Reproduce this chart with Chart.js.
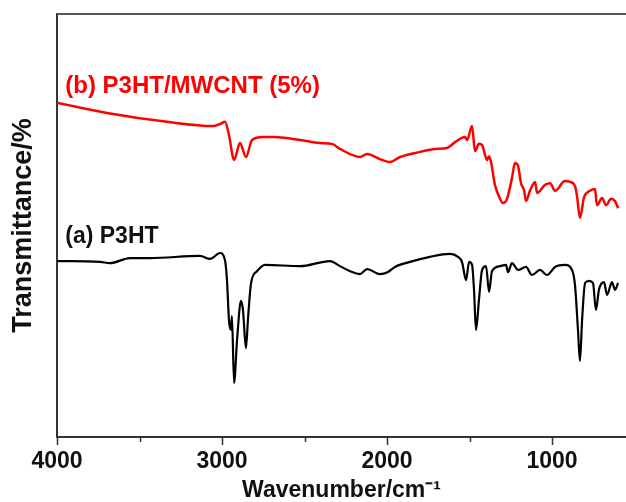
<!DOCTYPE html>
<html>
<head>
<meta charset="utf-8">
<style>
  html, body { margin: 0; padding: 0; background: #fff; }
  #box { width: 626px; height: 502px; }
</style>
<script src="https://cdn.jsdelivr.net/npm/chart.js"></script>
</head>
<body>
<div id="box"><canvas id="grafico"></canvas></div>
<script>
// spettro (b) P3HT/MWCNT: numero d'onda (cm-1) e trasmittanza
var numeri_onda_b = [4000, 3697, 3333, 3055, 3012, 2982, 2958, 2927, 2891, 2855, 2818, 2752, 2691, 2527, 2406, 2333, 2285, 2164, 2121, 2043, 1982, 1921, 1800, 1709, 1637, 1588, 1528, 1515, 1485, 1467, 1443, 1424, 1394, 1382, 1370, 1346, 1315, 1297, 1273, 1243, 1225, 1206, 1188, 1170, 1158, 1134, 1103, 1091, 1043, 1012, 982, 922, 891, 861, 849, 831, 806, 770, 740, 728, 697, 673, 643, 619, 600];
var trasmittanza_b = [79.0, 76.6, 74.5, 73.5, 74.0, 74.5, 71.4, 65.5, 69.5, 66.2, 70.2, 70.9, 70.9, 70.2, 69.5, 69.3, 68.1, 66.2, 66.9, 65.7, 65.0, 66.2, 67.4, 68.1, 68.3, 69.7, 70.9, 70.2, 73.5, 67.6, 69.3, 69.0, 65.5, 66.4, 65.0, 59.6, 56.3, 55.3, 56.3, 61.2, 64.8, 64.1, 60.0, 58.4, 55.8, 58.2, 60.3, 57.7, 59.6, 60.0, 58.2, 60.5, 60.3, 59.3, 57.0, 51.8, 56.7, 58.2, 58.6, 54.8, 56.5, 54.8, 56.3, 55.8, 54.1];

// spettro (a) P3HT
var numeri_onda_a = [4000, 3739, 3679, 3558, 3436, 3133, 3073, 3012, 2982, 2970, 2958, 2946, 2940, 2927, 2909, 2885, 2873, 2855, 2843, 2824, 2788, 2740, 2527, 2346, 2285, 2224, 2164, 2121, 2043, 1994, 1952, 1861, 1740, 1618, 1570, 1546, 1521, 1503, 1485, 1473, 1461, 1443, 1424, 1400, 1382, 1364, 1315, 1279, 1267, 1243, 1206, 1158, 1122, 1073, 1031, 982, 922, 879, 861, 843, 831, 818, 800, 776, 752, 734, 716, 685, 667, 637, 619, 600];
var trasmittanza_a = [41.6, 41.4, 41.1, 42.3, 42.3, 42.8, 42.1, 43.5, 41.8, 37.1, 27.7, 25.3, 28.6, 12.8, 22.9, 32.2, 30.0, 21.0, 27.7, 36.4, 39.2, 40.7, 40.4, 41.6, 40.4, 39.2, 38.5, 39.7, 38.5, 39.0, 40.2, 41.4, 42.6, 43.3, 42.6, 41.4, 37.1, 41.4, 40.7, 34.8, 25.3, 32.4, 39.5, 40.4, 34.3, 39.2, 40.4, 40.7, 39.0, 41.1, 39.5, 40.2, 38.3, 39.5, 38.3, 40.2, 40.7, 39.5, 35.9, 25.3, 18.0, 27.7, 36.4, 36.9, 36.4, 30.0, 34.8, 36.6, 33.6, 36.6, 34.8, 36.4];

// tacche dell'asse x
var tacche_principali = [4000, 3000, 2000, 1000];
var tacche_secondarie = [3500, 2500, 1500];

var nome_b = '(b) P3HT/MWCNT (5%)';
var nome_a = '(a) P3HT';

function punti(xs, ys) {
  var out = [];
  for (var i = 0; i < xs.length; i++) {
    out.push({ x: xs[i], y: ys[i] });
  }
  return out;
}

var font_base = 'Arial, "Liberation Sans", sans-serif';

// cornice sopra, tacche corte e scritte delle curve
var cornice = {
  id: 'cornice',
  afterDraw: function(chart) {
    var ctx = chart.ctx;
    var area = chart.chartArea;
    var sx = chart.scales.x;
    var sy = chart.scales.y;
    ctx.save();
    ctx.strokeStyle = '#555';
    ctx.lineWidth = 2;
    ctx.beginPath();
    ctx.moveTo(area.left, area.top);
    ctx.lineTo(area.right, area.top);
    ctx.stroke();
    ctx.lineWidth = 1.5;
    ctx.strokeStyle = '#333';
    for (var i = 0; i < tacche_secondarie.length; i++) {
      var px = Math.round(sx.getPixelForValue(tacche_secondarie[i])) + 0.5;
      ctx.beginPath();
      ctx.moveTo(px, area.bottom);
      ctx.lineTo(px, area.bottom + 5);
      ctx.stroke();
    }
    ctx.font = 'bold 24px ' + font_base;
    ctx.textBaseline = 'middle';
    ctx.textAlign = 'left';
    ctx.fillStyle = '#ff0000';
    ctx.fillText(nome_b, sx.getPixelForValue(3950), sy.getPixelForValue(83.0));
    ctx.fillStyle = '#111';
    ctx.font = 'bold 23px ' + font_base;
    ctx.fillText(nome_a, sx.getPixelForValue(3950), sy.getPixelForValue(47.3));
    ctx.restore();
  }
};

var ctx = document.getElementById('grafico').getContext('2d');

var grafico = new Chart(ctx, {
  type: 'line',
  data: {
    datasets: [{
      label: nome_b,
      data: punti(numeri_onda_b, trasmittanza_b),
      borderColor: '#ff0000',
      borderWidth: 2.5,
      pointRadius: 0,
      cubicInterpolationMode: 'monotone',
      fill: false
    }, {
      label: nome_a,
      data: punti(numeri_onda_a, trasmittanza_a),
      borderColor: '#000000',
      borderWidth: 2.2,
      pointRadius: 0,
      cubicInterpolationMode: 'monotone',
      fill: false
    }]
  },
  options: {
    responsive: true,
    maintainAspectRatio: false,
    animation: false,
    layout: { padding: { top: 14, right: 0, left: 0, bottom: 0 } },
    plugins: {
      legend: { display: false },
      tooltip: { enabled: false }
    },
    scales: {
      x: {
        type: 'linear',
        reverse: true,
        min: 552,
        max: 4000,
        afterFit: function(s) { s.height = 65; },
        afterBuildTicks: function(s) {
          s.ticks = tacche_principali.map(function(v) { return { value: v }; });
        },
        border: { display: true, color: '#333', width: 2 },
        grid: { drawOnChartArea: false, drawTicks: true, tickLength: 8, tickColor: '#333', tickWidth: 1.5 },
        ticks: {
          color: '#111',
          padding: 3,
          maxRotation: 0,
          font: { family: font_base, size: 23, weight: 'bold' },
          callback: function(valore) { return String(valore); }
        },
        title: {
          display: true,
          text: 'Wavenumber/cm\u207B\u00B9',
          color: '#111',
          padding: { top: 0, bottom: 0 },
          font: { family: font_base, size: 23, weight: 'bold', lineHeight: 1.0 }
        }
      },
      y: {
        min: 0,
        max: 100,
        afterFit: function(s) { s.width = 57; },
        border: { display: true, color: '#333', width: 2 },
        grid: { display: false },
        ticks: { display: false },
        title: {
          display: true,
          text: 'Transmittance/%',
          color: '#111',
          padding: { top: 7, bottom: 0 },
          font: { family: font_base, size: 27, weight: 'bold' }
        }
      }
    }
  },
  plugins: [cornice]
});
</script>
</body>
</html>
